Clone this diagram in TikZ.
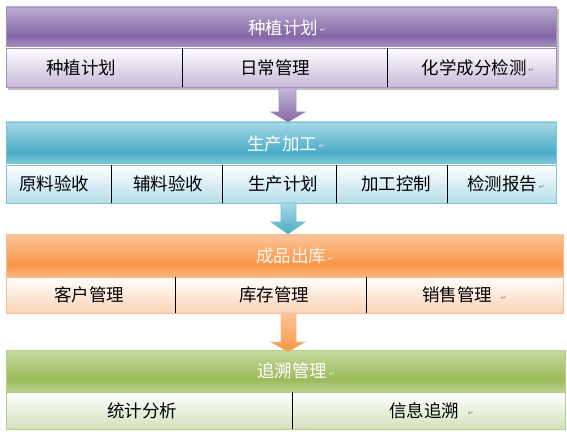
\documentclass[tikz,border=0pt]{standalone}
\usepackage{fontspec}
\newfontfamily\cjk{Noto Sans CJK SC}
\newfontfamily\sym{DejaVu Sans}
\usetikzlibrary{calc}
% purple
\definecolor{pT}{HTML}{BCAED2}
\definecolor{pM}{HTML}{8366A6}
\definecolor{pB}{HTML}{A996C4}
\definecolor{pS}{HTML}{C6B9DA}
\definecolor{pL}{HTML}{A592C0}
% aqua
\definecolor{bT}{HTML}{A8D8E6}
\definecolor{bM}{HTML}{4BACC6}
\definecolor{bB}{HTML}{86C8DA}
\definecolor{bS}{HTML}{B4DEEA}
\definecolor{bL}{HTML}{7EC3D6}
% orange
\definecolor{oT}{HTML}{FBC49A}
\definecolor{oM}{HTML}{F79646}
\definecolor{oB}{HTML}{F9B47E}
\definecolor{oS}{HTML}{FBD3B5}
\definecolor{oL}{HTML}{F6BE90}
% green
\definecolor{gT}{HTML}{C4D9A0}
\definecolor{gM}{HTML}{9BBB59}
\definecolor{gB}{HTML}{BBD291}
\definecolor{gS}{HTML}{D3E2BC}
\definecolor{gL}{HTML}{B5CD8A}
\pgfdeclareverticalshading{headP}{100bp}{color(0bp)=(pB); color(25bp)=(pB); color(40bp)=(pM); color(75bp)=(pT); color(100bp)=(pT)}
\pgfdeclareverticalshading{headB}{100bp}{color(0bp)=(bB); color(25bp)=(bB); color(40bp)=(bM); color(75bp)=(bT); color(100bp)=(bT)}
\pgfdeclareverticalshading{headO}{100bp}{color(0bp)=(oB); color(25bp)=(oB); color(40bp)=(oM); color(75bp)=(oT); color(100bp)=(oT)}
\pgfdeclareverticalshading{headG}{100bp}{color(0bp)=(gB); color(25bp)=(gB); color(40bp)=(gM); color(75bp)=(gT); color(100bp)=(gT)}
\tikzset{
  box/.style={rectangle, inner sep=0pt, outer sep=0pt, anchor=north west, line width=0.8pt},
  ht/.style={text=white, font=\cjk\fontsize{17.5}{19}\selectfont, inner sep=0pt},
  st/.style={text=black, font=\cjk\fontsize{17.5}{19}\selectfont, inner sep=0pt},
  retw/.style={text=white!85!gray, font=\sym\fontsize{7}{8}\selectfont, inner sep=0pt, anchor=west, xshift=1.5pt, yshift=-3pt},
  retg/.style={text=gray, font=\sym\fontsize{7}{8}\selectfont, inner sep=0pt, anchor=west, xshift=1.5pt, yshift=-3pt},
  div/.style={draw=black, line width=0.8pt},
  blockarrow/.style={line width=0.6pt}
}
\begin{document}
\begin{tikzpicture}[x=1pt,y=-1pt]
\useasboundingbox (0,0) rectangle (567,438);
\fill[white] (0,0) rectangle (567,438);
% ===== Block 1 =====
\fill[black!25] (8,9) rectangle (559,90);
\node[box, draw=pL, shading=headP, minimum width=550pt, minimum height=41pt] (h1) at (6,7) {};
\node[box, draw=pL, top color=white, bottom color=pS, minimum width=550pt, minimum height=39pt] (s1) at (6,48) {};
\draw[div] (182,48) -- (182,87);
\draw[div] (387,48) -- (387,87);
\node[ht] (t1) at (283,27.5) {种植计划};
\node[retw] at (t1.east) {↵};
\node[st] at (81,67.5) {种植计划};
\node[st] at (275,67.5) {日常管理};
\node[st] (t13) at (474,67.5) {化学成分检测};
\node[retg] at (t13.east) {↵};
% ===== Block 2 =====
\node[box, draw=bL, shading=headB, minimum width=550pt, minimum height=43pt] (h2) at (6,122) {};
\node[box, draw=bL, top color=white, bottom color=bS, minimum width=550pt, minimum height=38pt] (s2) at (6,165) {};
\draw[div] (111,165) -- (111,203);
\draw[div] (222,165) -- (222,203);
\draw[div] (336,165) -- (336,203);
\draw[div] (447,165) -- (447,203);
\node[ht] (t2) at (282,143.5) {生产加工};
\node[retw] at (t2.east) {↵};
\node[st] at (54,184) {原料验收};
\node[st] at (168,184) {辅料验收};
\node[st] at (283,184) {生产计划};
\node[st] at (396,184) {加工控制};
\node[st] (t25) at (502,184) {检测报告};
\node[retg] at (t25.east) {↵};
% ===== Block 3 =====
\node[box, draw=oL, shading=headO, minimum width=557pt, minimum height=42pt] (h3) at (6,235) {};
\node[box, draw=oL, top color=white, bottom color=oS, minimum width=557pt, minimum height=36pt] (s3) at (6,277) {};
\draw[div] (175,277) -- (175,313);
\draw[div] (366,277) -- (366,313);
\node[ht, text=white!92!orange] (t3) at (291,256) {成品出库};
\node[retw] at (t3.east) {↵};
\node[st] at (89,295) {客户管理};
\node[st] at (274,295) {库存管理};
\node[st] (t33) at (457,295) {销售管理};
\node[retg, xshift=7pt] at (t33.east) {↵};
% ===== Block 4 =====
\node[box, draw=gL, shading=headG, minimum width=559pt, minimum height=42pt] (h4) at (6,350) {};
\node[box, draw=gL, top color=white, bottom color=gS, minimum width=559pt, minimum height=37pt] (s4) at (6,392) {};
\draw[div] (292,392) -- (292,429);
\node[ht] (t4) at (292,371) {追溯管理};
\node[retw] at (t4.east) {↵};
\node[st] at (142,410.5) {统计分析};
\node[st] (t42) at (424,410.5) {信息追溯};
\node[retg, xshift=7pt] at (t42.east) {↵};
% ===== Arrows =====
\draw[blockarrow, draw=pL, top color=pS, bottom color=pM]
  (279,88) -- (296,88) -- (296,112) -- (305,112) -- (288,122) -- (271,112) -- (279,112) -- cycle;
\draw[blockarrow, draw=bL, top color=bT, bottom color=bM]
  (281,203) -- (296,203) -- (296,222) -- (305,222) -- (288,234) -- (271,222) -- (281,222) -- cycle;
\draw[blockarrow, draw=oL, top color=oT, bottom color=oM]
  (281,313) -- (296,313) -- (296,342) -- (305,342) -- (288,352) -- (271,342) -- (281,342) -- cycle;
\end{tikzpicture}
\end{document}
